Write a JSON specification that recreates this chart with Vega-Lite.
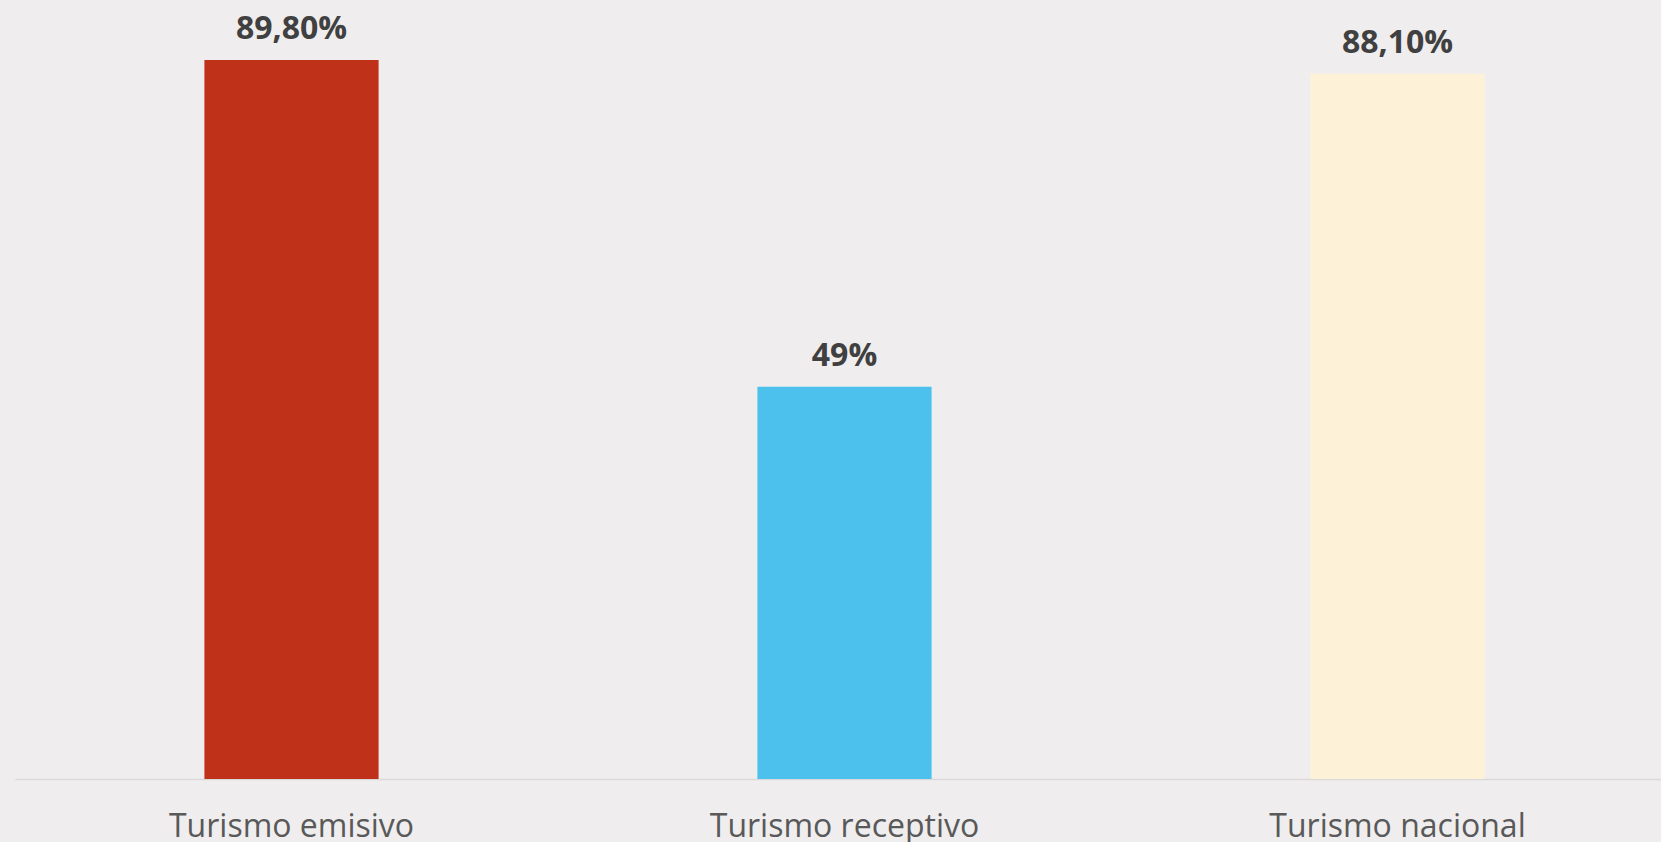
{
  "$schema": "https://vega.github.io/schema/vega-lite/v6.json",
  "autosize": {"type": "none"},
  "padding": {"left": 15, "top": 0, "right": 0, "bottom": 63},
  "width": 1659,
  "height": 779,
  "background": "#EFEDEE",
  "config": {"view": {"stroke": null, "fill": "#EFEDEE"}},
  "data": {"values": [
    {"categoria": "Turismo emisivo", "valor": 89.8, "etiqueta": "89,80%"},
    {"categoria": "Turismo receptivo", "valor": 49, "etiqueta": "49%"},
    {"categoria": "Turismo nacional", "valor": 88.1, "etiqueta": "88,10%"}
  ]},
  "encoding": {
    "x": {
      "field": "categoria", "type": "nominal", "sort": null,
      "scale": {"paddingInner": 0.685, "paddingOuter": 0.3425},
      "axis": {
        "title": null, "labelAngle": 0, "ticks": false,
        "domainColor": "#D9D9D9", "domainWidth": 1.5,
        "labelFont": "Open Sans", "labelFontSize": 32, "labelColor": "#595959",
        "labelBaseline": "alphabetic", "labelPadding": 57, "labelLimit": 0
      }
    },
    "y": {
      "field": "valor", "type": "quantitative",
      "scale": {"domain": [0, 97.3], "nice": false},
      "axis": null
    }
  },
  "layer": [
    {
      "mark": {"type": "bar"},
      "encoding": {
        "color": {
          "field": "categoria", "type": "nominal", "legend": null,
          "scale": {
            "domain": ["Turismo emisivo", "Turismo receptivo", "Turismo nacional"],
            "range": ["#C0311A", "#4DC1EE", "#FDF2D8"]
          }
        }
      }
    },
    {
      "mark": {"type": "text", "baseline": "alphabetic", "dy": -21, "font": "Open Sans", "fontSize": 32, "fontWeight": "bold", "color": "#404040"},
      "encoding": {"text": {"field": "etiqueta"}}
    }
  ]
}
